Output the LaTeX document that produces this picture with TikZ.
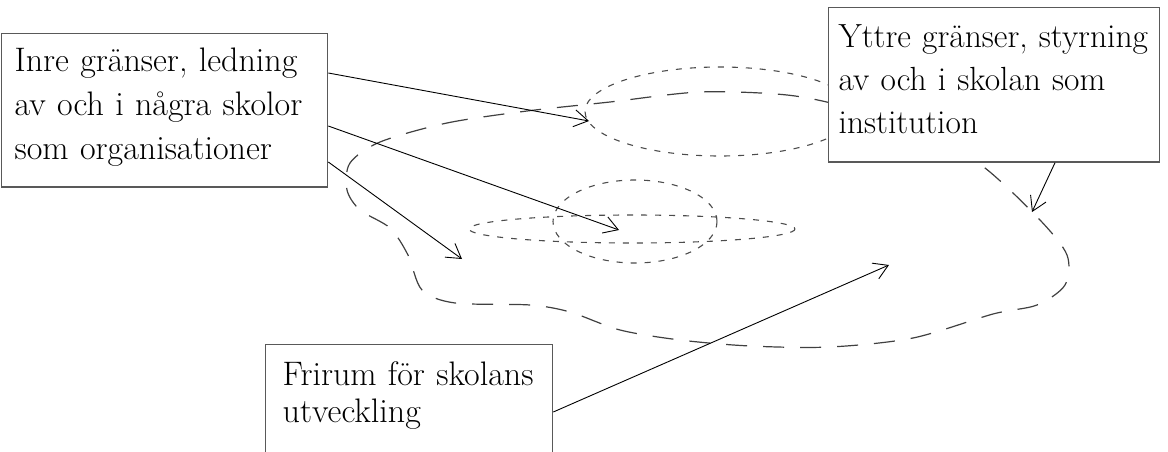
\documentclass[tikz,border=0pt]{standalone}
\usetikzlibrary{arrows.meta,calc}
\begin{document}
\begin{tikzpicture}[x=1pt,y=-1pt,
  box/.style={draw=black!65,line width=1.3pt,fill=white,align=left,anchor=north west,text height=23pt},
  pil/.style={line width=0.9pt,-{Straight Barb[length=14pt,width=17pt]}},
  prickad/.style={draw=black!70,line width=1.1pt,dash pattern=on 6pt off 8pt},
  streckad/.style={draw=black!75,line width=1.2pt,dash pattern=on 21pt off 16pt}]

\useasboundingbox (0,0) rectangle (1168,452);

\draw [prickad] (720,111.5) ellipse [x radius=135, y radius=44.5];
\draw [prickad] (635,221.5) ellipse [x radius=82, y radius=41.5];
\draw [prickad] (632,229) ellipse [x radius=163, y radius=14];

\draw [streckad] plot [smooth cycle] coordinates {(380,142) (447,123) (527,111) (610,102) (700,92) (787,95) (850,108) (930,135) (985,168) (1040,220) (1067,255) (1065,285) (1037,305) (993,314) (913,338) (830,347) (750,346) (680,340) (620,330) (570,312) (530,305) (455,303) (422,290) (408,255) (390,228) (360,210) (347,190) (350,163)};

\node [box, inner xsep=13pt, inner ysep=14.7pt, text width=300pt, text depth=101pt, font=\fontsize{34}{44}\selectfont] (inre) at (1,33) {Inre gränser, ledning\\av och i några skolor\\som organisationer};
\node [box, inner xsep=10pt, inner ysep=16.7pt, text width=311pt, text depth=98pt, font=\fontsize{33.5}{43}\selectfont] (yttre) at (828,7) {Yttre gränser, styrning\\av och i skolan som\\institution};
\node [box, inner xsep=17pt, inner ysep=18pt, text width=253pt, text depth=120pt, font=\fontsize{34}{37}\selectfont] (frirum) at (265,344) {Frirum för skolans\\utveckling};

\coordinate (m1) at (589,121);
\coordinate (m2) at (619,230);
\coordinate (m3) at (462,259);
\coordinate (m4) at (889,265);
\coordinate (m5) at (1032,212);

\draw [pil] ($(inre.north east)+(0,40)$) -- (m1);
\draw [pil] ($(inre.north east)+(0,93)$) -- (m2);
\draw [pil] ($(inre.north east)+(0,129)$) -- (m3);
\draw [pil] ($(frirum.north east)+(0,68)$) -- (m4);
\draw [pil] ($(yttre.south west)+(227,0)$) -- (m5);

\end{tikzpicture}
\end{document}
